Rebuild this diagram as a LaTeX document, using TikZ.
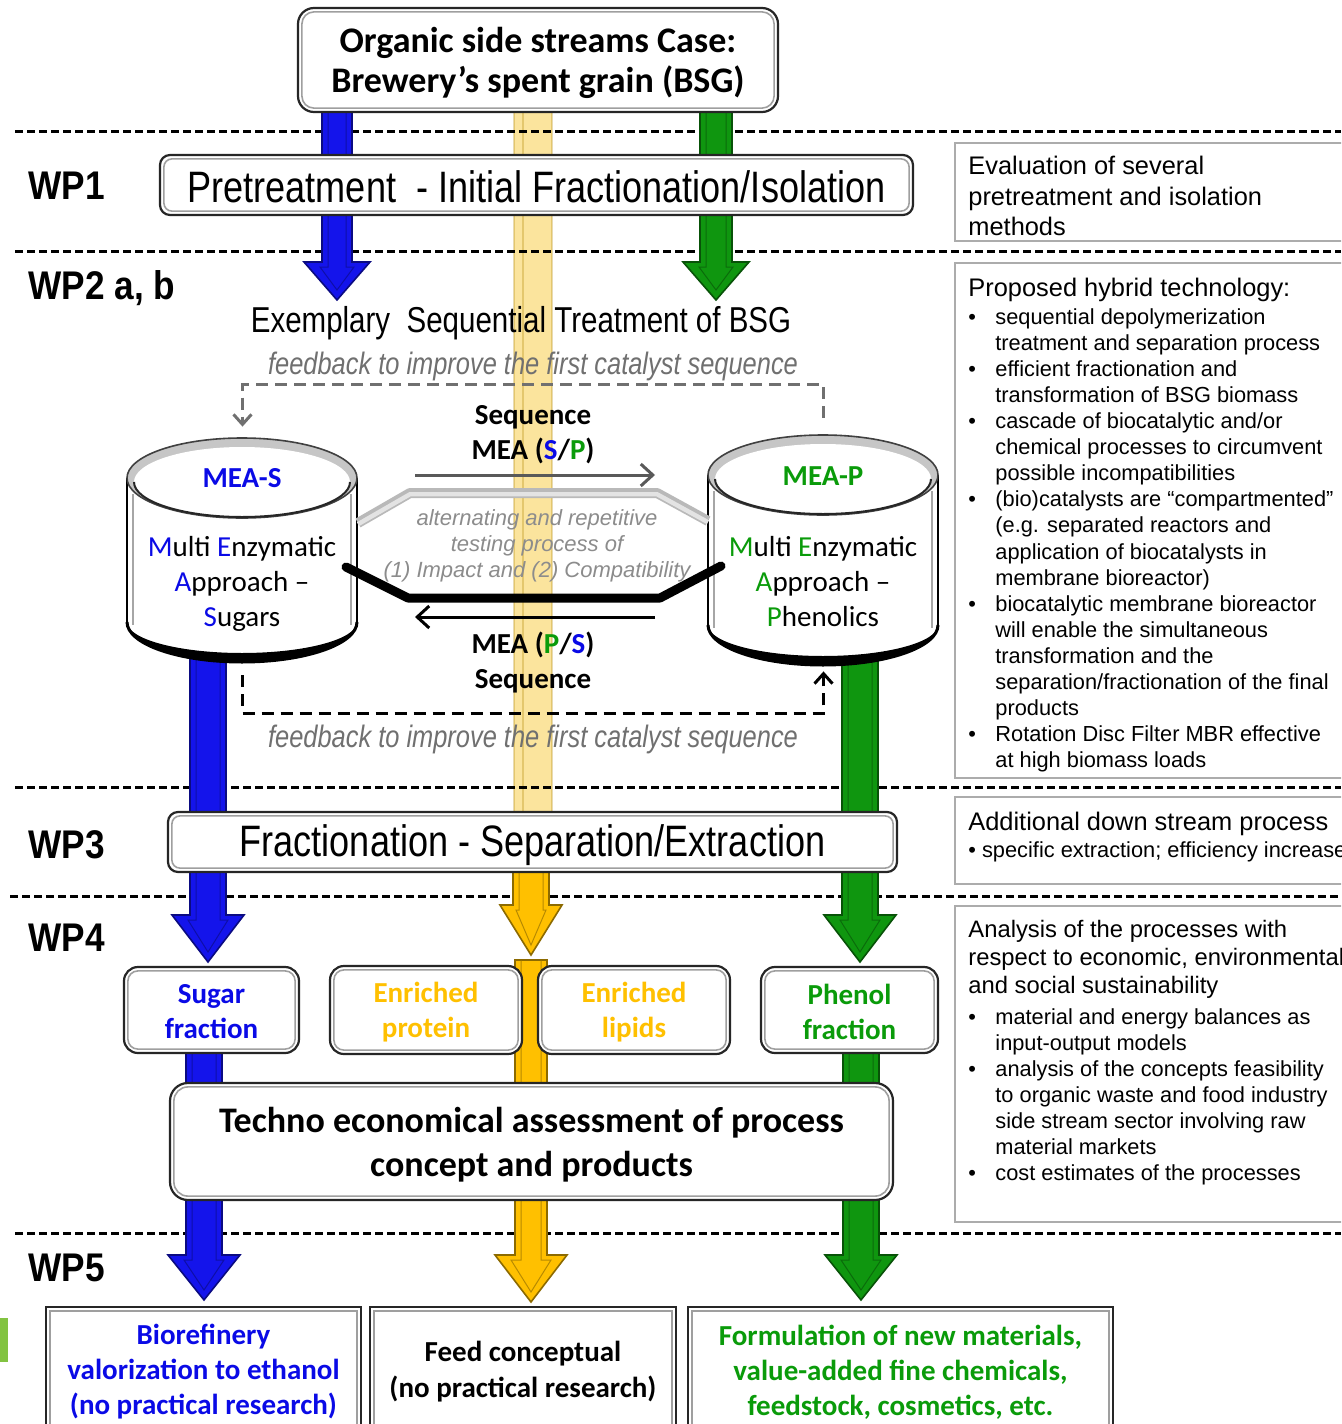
\documentclass[tikz,border=0pt]{standalone}
\usepackage{fontspec}
\setmainfont{Liberation Sans}
\newfontfamily\calib{Carlito}
\newfontfamily\arl{Liberation Sans}
\newfontfamily\nar[FakeStretch=0.82]{Liberation Sans}
\newfontfamily\wpf[FakeStretch=0.88]{Liberation Sans}
\usetikzlibrary{fit,arrows.meta}

\definecolor{bA}{RGB}{20,20,235}
\definecolor{bT}{RGB}{10,10,230}
\definecolor{gA}{RGB}{15,150,15}
\definecolor{gT}{RGB}{10,155,10}
\definecolor{yA}{RGB}{255,192,0}
\definecolor{pY}{RGB}{251,224,140}
\definecolor{fbG}{RGB}{112,112,112}
\definecolor{midG}{RGB}{140,140,140}
\definecolor{lgreen}{RGB}{130,195,65}

\newcommand\fs[2]{\fontsize{#1}{#2}\selectfont}

% block arrow: x, ytop, ytip, shaft half width, head half width, head length, colour
\newcommand\blockarr[7]{%
 \fill[#7, draw=#7!55!black, line width=0.8pt] (#1-#4,#2) -- (#1+#4,#2) -- (#1+#4,#3-#6) -- (#1+#5,#3-#6) -- (#1,#3) -- (#1-#5,#3-#6) -- (#1-#4,#3-#6) -- cycle;
 \draw[#7!60!black, line width=0.5pt, opacity=0.7] (#1-#4+6,#2) -- (#1-#4+6,#3-#6+5) -- (#1-#5+16,#3-#6+5) -- (#1,#3-10) -- (#1+#5-16,#3-#6+5) -- (#1+#4-6,#3-#6+5) -- (#1+#4-6,#2);
}

% cylinder: cx, top centre y, bottom centre y
\newcommand\cyl[3]{%
 \fill[white] (#1-115,#2) rectangle (#1+115,#3);
 \fill[white] (#1,#3) ellipse[x radius=115, y radius=40];
 \draw[black, line width=1pt] (#1-115,#2) -- (#1-115,#3);
 \draw[black, line width=1pt] (#1+115,#2) -- (#1+115,#3);
 \draw[gray!70, line width=0.6pt] (#1-109,#2+16) -- (#1-109,#3+3);
 \draw[gray!70, line width=0.6pt] (#1+109,#2+16) -- (#1+109,#3+3);
 \fill[black] (#1-115,#3) arc[start angle=180, end angle=0, x radius=115, y radius=40] arc[start angle=0, end angle=180, x radius=115, y radius=31] -- cycle;
 \draw[black, line width=1.5pt] (#1-115,#3) arc[start angle=180, end angle=0, x radius=115, y radius=40];
 \fill[gray!45] (#1,#2) ellipse[x radius=115, y radius=40];
 \fill[white] (#1,#2+4) ellipse[x radius=108, y radius=35];
 \draw[black!75, line width=0.8pt] (#1,#2) ellipse[x radius=115, y radius=40];
 \draw[black!85, line width=1pt] (#1-108,#2+4) arc[start angle=180, end angle=0, x radius=108, y radius=35];
}

% inner line of a framed box: node name, inset, radius
\newcommand\inl[3]{%
 \draw[gray!75, line width=0.8pt, rounded corners=#3] ([shift={(#2,#2)}]#1.north west) rectangle ([shift={(-#2,-#2)}]#1.south east);
}

\tikzset{
 sep/.style={black, line width=1.5pt, dash pattern=on 4pt off 2pt},
 rb/.style={draw=black!85, line width=1.1pt, fill=white, inner sep=0pt, rounded corners=#1},
 rb/.default=6pt,
 sidebox/.style={draw=gray!65, line width=1.1pt, inner sep=0pt},
 wplab/.style={anchor=west, inner sep=0pt, font=\wpf\bfseries\fs{20}{24}},
 fbtop/.style={fbG, line width=1.5pt, dash pattern=on 6pt off 3.5pt, -{Straight Barb[length=5pt,width=9pt]}},
 fbbot/.style={black, line width=1.5pt, dash pattern=on 6pt off 3.5pt, -{Straight Barb[length=5pt,width=9pt]}},
 fbtext/.style={font=\nar\itshape\fs{15.5}{18}, text=fbG},
 seqtext/.style={font=\calib\bfseries\fs{14.5}{17.5}},
 righttext/.style={anchor=west, font=\arl\fs{12.7}{15.25}, inner sep=0pt},
 bullets/.style={anchor=north west, font=\arl\fs{10.9}{13.05}, inner sep=0pt},
 dn/.style={yshift=-1.4pt},
}

\begin{document}
\begin{tikzpicture}[x=0.5pt,y=-0.5pt]
\useasboundingbox (0,0) rectangle (1341,1424);
\clip (0,0) rectangle (1341,1424);
\fill[white] (0,0) rectangle (1341,1424);

% pale yellow column
\fill[pY, opacity=0.85] (514,100) rectangle (552,815);
\draw[yA!70!black, opacity=0.3, line width=0.6pt] (514,100) -- (514,815) (552,100) -- (552,815) (523,100) -- (523,815);

% separators
\draw[sep] (15,131) -- (1341,131);
\draw[sep] (15,251) -- (1341,251);
\draw[sep] (15,787) -- (1341,787);
\draw[sep] (10,896) -- (1341,896);
\draw[sep] (15,1233) -- (1341,1233);

% green mark at left edge
\fill[lgreen] (0,1318) rectangle (8,1362);

% block arrows
\blockarr{337}{100}{300}{15}{33}{38}{bA}
\blockarr{716}{100}{300}{16}{33}{38}{gA}
\blockarr{208}{640}{962}{18}{36}{47}{bA}
\blockarr{860}{640}{962}{18}{36}{47}{gA}
\blockarr{531}{960}{1302}{16}{36}{47}{yA}
\blockarr{531}{860}{955}{18}{31}{50}{yA}
\blockarr{204}{1045}{1300}{18}{36}{45}{bA}
\blockarr{861}{1045}{1300}{18}{36}{45}{gA}

% right-hand boxes
\node[sidebox, fit={(955,143) (1400,241)}] (evB) {};
\node[sidebox, fit={(955,263) (1400,778)}] (hyB) {};
\node[sidebox, fit={(955,797) (1400,884)}] (adB) {};
\node[sidebox, fit={(955,906) (1400,1222)}] (anB) {};

% cylinders
\cyl{242}{478}{622}
\cyl{823}{475}{625}
\node[fit={(127,438) (358,662)}, inner sep=0pt] (cylS) {};
\node[fit={(708,435) (939,665)}, inner sep=0pt] (cylP) {};

% links between the cylinders
\coordinate (gL) at (358,523);
\coordinate (gL2) at (410,493);
\coordinate (gR2) at (657,493);
\coordinate (gR) at (708,521);
\draw[gray!55, line width=5pt, line join=round] (gL) -- (gL2) -- (gR2) -- (gR);
\draw[gray!22, line width=2.2pt, line join=round] ([yshift=-0.6pt]gL) -- ([yshift=-0.6pt]gL2) -- ([yshift=-0.6pt]gR2) -- ([yshift=-0.6pt]gR);
\coordinate (kL) at (346,567);
\coordinate (kL2) at (408,598);
\coordinate (kR2) at (660,598);
\coordinate (kR) at (721,566);
\draw[black, line width=4.5pt, line cap=round, line join=round] (kL) -- (kL2) -- (kR2) -- (kR);
\coordinate (a1) at (415,475);
\coordinate (a2) at (655,475);
\draw[black!65, line width=1.5pt, -{Straight Barb[length=6pt,width=11pt]}] (a1) -- (a2);
\coordinate (b1) at (655,617);
\coordinate (b2) at (415,617);
\draw[black, line width=1.5pt, -{Straight Barb[length=6pt,width=11pt]}] (b1) -- (b2);

% feedback loops
\draw[fbtop] ([yshift=8.5pt]cylP.north) -- ++(0,-33) -| ([yshift=5.5pt]cylS.north);
\draw[fbbot] ([yshift=-6.5pt]cylS.south) -- ++(0,38) -| ([yshift=-3pt]cylP.south);

% framed boxes
\node[rb=8pt, fit={(298,8) (778,112)}] (topB) {};
\inl{topB}{5}{6pt}
\node[rb=5pt, fit={(160,155) (913,215)}] (wp1B) {};
\inl{wp1B}{5}{4pt}
\node[rb=5pt, fit={(168,812) (897,872)}] (wp3B) {};
\inl{wp3B}{5}{4pt}
\node[rb=7pt, fit={(124,967) (299,1053)}] (sugB) {};
\inl{sugB}{5}{5pt}
\node[rb=7pt, fit={(330,966) (522,1054)}] (proB) {};
\inl{proB}{5}{5pt}
\node[rb=7pt, fit={(538,966) (730,1054)}] (lipB) {};
\inl{lipB}{5}{5pt}
\node[rb=7pt, fit={(761,967) (938,1053)}] (phB) {};
\inl{phB}{5}{5pt}
\node[rb=9pt, fit={(170,1083) (893,1200)}] (teB) {};
\inl{teB}{5}{7pt}
\node[rb=0pt, fit={(46,1307) (361,1433)}] (bioB) {};
\inl{bioB}{5}{0pt}
\node[rb=0pt, fit={(370,1307) (676,1433)}] (feedB) {};
\inl{feedB}{5}{0pt}
\node[rb=0pt, fit={(688,1307) (1113,1433)}] (forB) {};
\inl{forB}{5}{0pt}

% texts in boxes
\node[dn, font=\calib\bfseries\fs{18}{20}, align=center] (topT) at (topB.center) {Organic side streams Case:\\Brewery’s spent grain (BSG)};
\node[font=\nar\fs{22}{26}, yshift=-0.8pt] (wp1T) at (wp1B.center) {Pretreatment\ \ - Initial Fractionation/Isolation};
\node[font=\nar\fs{22}{26}, yshift=-1.8pt] (wp3T) at (wp3B.center) {Fractionation - Separation/Extraction};
\node[font=\calib\bfseries\fs{14.5}{17.5}, align=center, text=bT, yshift=-1pt] (sugT) at (sugB.center) {Sugar\\fraction};
\node[font=\calib\bfseries\fs{14.5}{17.5}, align=center, text=yA, yshift=-1pt] (proT) at (proB.center) {Enriched\\protein};
\node[font=\calib\bfseries\fs{14.5}{17.5}, align=center, text=yA, yshift=-1pt] (lipT) at (lipB.center) {Enriched\\lipids};
\node[font=\calib\bfseries\fs{14.5}{17.5}, align=center, text=gT, yshift=-1pt] (phT) at (phB.center) {Phenol\\fraction};
\node[dn, font=\calib\bfseries\fs{18}{22}, align=center] (teT) at (teB.center) {Techno economical assessment of process\\concept and products};
\node[font=\calib\bfseries\fs{14.5}{17.5}, align=center, text=bT, yshift=-1pt] (bioT) at (bioB.center) {Biorefinery\\valorization to ethanol\\(no practical research)};
\node[font=\calib\bfseries\fs{14.5}{18}, align=center, yshift=-1pt] (feedT) at (feedB.center) {Feed conceptual\\(no practical research)};
\node[font=\calib\bfseries\fs{14.5}{17.5}, align=center, text=gT, yshift=-1pt] (forT) at (forB.center) {Formulation of new materials,\\value-added fine chemicals,\\feedstock, cosmetics, etc.};

% WP labels
\node[wplab] (wp1) at (28,186) {WP1};
\node[wplab] (wp2) at (28,288) {WP2 a, b};
\node[wplab] (wp3) at (28,845) {WP3};
\node[wplab] (wp4) at (28,938) {WP4};
\node[wplab] (wp5) at (28,1268) {WP5};

% WP2 texts
\node[font=\nar\fs{18}{22}] (exT) at (521,323) {Exemplary\ \ Sequential Treatment of BSG};
\node[fbtext] (fb1) at (533,366) {feedback to improve the first catalyst sequence};
\node[fbtext] (fb2) at (533,739) {feedback to improve the first catalyst sequence};
\node[seqtext, align=center] (seq1) at (533,435) {Sequence\\MEA (\textcolor{bT}{S}/\textcolor{gT}{P})};
\node[seqtext, align=center] (seq2) at (533,663) {MEA (\textcolor{gT}{P}/\textcolor{bT}{S})\\Sequence};
\node[font=\arl\itshape\fs{11}{13}, text=midG, align=center] (alt) at (537,546) {alternating and repetitive\\testing process of\\(1) Impact and (2) Compatibility};

% cylinder texts
\node[seqtext, text=bT] (meaS) at (242,478) {MEA-S};
\node[font=\calib\fs{14.5}{17.5}, align=center] (txS) at (242,584) {\textcolor{bT}{M}ulti \textcolor{bT}{E}nzymatic\\\textcolor{bT}{A}pproach –\\\textcolor{bT}{S}ugars};
\node[seqtext, text=gT] (meaP) at (823,476) {MEA-P};
\node[font=\calib\fs{14.5}{17.5}, align=center] (txP) at (823,582) {\textcolor{gT}{M}ulti \textcolor{gT}{E}nzymatic\\\textcolor{gT}{A}pproach –\\\textcolor{gT}{P}henolics};

% right-hand texts
\node[anchor=north west, font=\arl\fs{12.7}{15.25}, inner sep=0pt] (evT) at (968,153) {\begin{tabular}{@{}l@{}}Evaluation of several\\pretreatment and isolation\\methods\end{tabular}};
\node[righttext] (hyH) at (968,290) {Proposed hybrid technology:};
\node[bullets] (hyL) at (968,305.5) {\begin{tabular}{@{}p{13.5pt}@{}l@{}}
•&sequential depolymerization\\&treatment and separation process\\
•&efficient fractionation and\\&transformation of BSG biomass\\
•&cascade of biocatalytic and/or\\&chemical processes to circumvent\\&possible incompatibilities\\
•&(bio)catalysts are “compartmented”\\&(e.g. separated reactors and\\&application of biocatalysts in\\&membrane bioreactor)\\
•&biocatalytic membrane bioreactor\\&will enable the simultaneous\\&transformation and the\\&separation/fractionation of the final\\&products\\
•&Rotation Disc Filter MBR effective\\&at high biomass loads
\end{tabular}};
\node[righttext] (adH) at (968,824) {Additional down stream process};
\node[anchor=west, font=\arl\fs{10.9}{13.05}, inner sep=0pt] (adL) at (968,852) {• specific extraction; efficiency increase};
\node[anchor=north west, font=\arl\fs{11.9}{14}, inner sep=0pt] (anT) at (968,917) {\begin{tabular}{@{}l@{}}Analysis of the processes with\\respect to economic, environmental\\and social sustainability\end{tabular}};
\node[bullets] (anL) at (968,1005.5) {\begin{tabular}{@{}p{13.5pt}@{}l@{}}
•&material and energy balances as\\&input-output models\\
•&analysis of the concepts feasibility\\&to organic waste and food industry\\&side stream sector involving raw\\&material markets\\
•&cost estimates of the processes
\end{tabular}};
\end{tikzpicture}
\end{document}
